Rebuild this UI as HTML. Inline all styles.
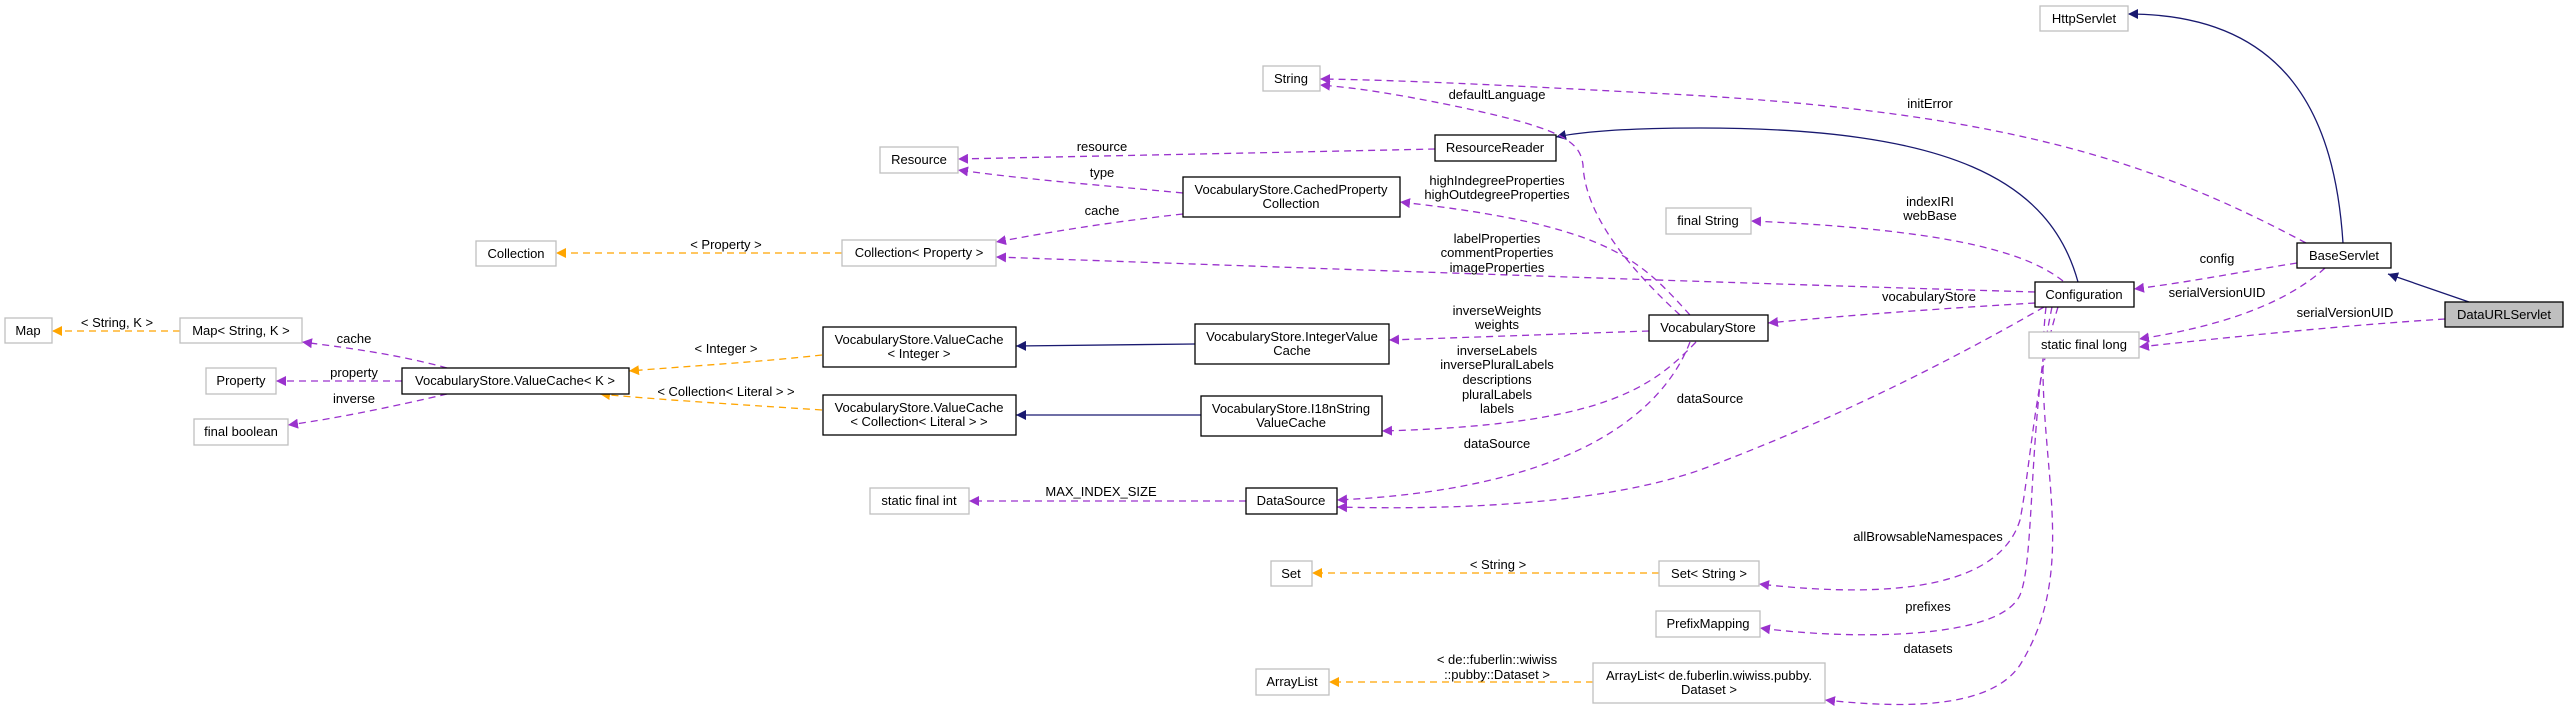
<!DOCTYPE html>
<html><head><meta charset="utf-8"><style>
html,body{margin:0;padding:0;background:#fff;}
svg{display:block;font-family:"Liberation Sans",Helvetica,Arial,sans-serif;font-size:13px;}
.g{fill:#fff;stroke:#bfbfbf;stroke-width:1.3}
.b{fill:#fff;stroke:#000;stroke-width:1.3}
.p{fill:none;stroke:#9a32cd;stroke-width:1.3;stroke-dasharray:7,5;marker-end:url(#mp)}
.o{fill:none;stroke:#ffa500;stroke-width:1.3;stroke-dasharray:7,5;marker-end:url(#mo)}
.n{fill:none;stroke:#191970;stroke-width:1.3;marker-end:url(#mn)}
text{fill:#000;}
.c{text-anchor:middle}
</style></head><body>
<svg width="2569" height="712" viewBox="0 0 2569 712" xmlns="http://www.w3.org/2000/svg">
<defs>
<marker id="mp" viewBox="0 0 10 10" refX="10" refY="5" markerWidth="10" markerHeight="10" markerUnits="userSpaceOnUse" orient="auto"><path d="M0,0 L10,5 L0,10 z" fill="#9a32cd"/></marker>
<marker id="mo" viewBox="0 0 10 10" refX="10" refY="5" markerWidth="10" markerHeight="10" markerUnits="userSpaceOnUse" orient="auto"><path d="M0,0 L10,5 L0,10 z" fill="#ffa500"/></marker>
<marker id="mn" viewBox="0 0 10 10" refX="10" refY="5" markerWidth="10" markerHeight="10" markerUnits="userSpaceOnUse" orient="auto"><path d="M0,0 L10,5 L0,10 z" fill="#191970"/></marker>
</defs>

<!-- edges -->
<path class="n" d="M2469,302 L2388,274"/>
<path class="n" d="M2343,243 C2335,120 2290,14 2128,14"/>
<path class="n" d="M2078,282 C2050,180 1950,128 1700,128 C1620,128 1580,132 1556,137"/>
<path class="n" d="M1195,344 L1016,346"/>
<path class="n" d="M1201,415 L1016,415"/>

<path class="p" d="M2445,319 C2350,325 2250,335 2139,347"/>
<path class="p" d="M2325,268 C2290,300 2230,325 2139,339"/>
<path class="p" d="M2297,263 C2240,272 2190,282 2134,289"/>
<path class="p" d="M2306,243 C2150,160 2000,110 1650,93 C1500,85 1400,80 1320,79"/>
<path class="p" d="M2063,281 C2030,255 1960,230 1751,221"/>
<path class="p" d="M2035,303 C1950,308 1850,315 1768,323"/>
<path class="p" d="M2035,292 C1800,285 1500,275 996,257"/>
<path class="p" d="M2044,307 C1900,390 1780,440 1700,470 C1600,505 1450,510 1337,507"/>
<path class="p" d="M2058,307 C2035,380 2030,470 2020,520 C2000,585 1900,600 1759,584"/>
<path class="p" d="M2052,307 C2028,420 2035,560 2020,595 C2000,640 1850,640 1760,628"/>
<path class="p" d="M2046,307 C2030,450 2085,560 2020,665 C1990,710 1900,708 1825,700"/>
<path class="p" d="M1680,315 C1620,260 1585,210 1583,165 C1580,140 1560,128 1450,105 C1400,95 1360,88 1320,85"/>
<path class="p" d="M1690,315 C1640,260 1610,225 1400,202"/>
<path class="p" d="M1649,331 C1560,334 1480,337 1389,340"/>
<path class="p" d="M1696,342 C1650,390 1600,425 1382,431"/>
<path class="p" d="M1690,342 C1660,420 1560,490 1337,500"/>
<path class="p" d="M1246,501 L969,501"/>
<path class="p" d="M1183,193 C1100,185 1030,180 958,170"/>
<path class="p" d="M1435,149 C1300,152 1100,156 958,159"/>
<path class="p" d="M1183,214 C1110,222 1050,232 996,242"/>
<path class="p" d="M447,368 C400,355 350,348 302,342"/>
<path class="p" d="M402,381 L276,381"/>
<path class="p" d="M447,394 C400,405 340,418 288,425"/>

<path class="o" d="M842,253 L556,253"/>
<path class="o" d="M822,355 C760,362 690,366 629,371"/>
<path class="o" d="M822,410 C730,404 650,399 600,394"/>
<path class="o" d="M180,331 L52,331"/>
<path class="o" d="M1659,573 L1312,573"/>
<path class="o" d="M1593,682 L1329,682"/>

<!-- nodes -->
<rect class="g" x="2040" y="6" width="88" height="25"/><text class="c" x="2084" y="23">HttpServlet</text>
<rect class="b" x="2297" y="243" width="94" height="25"/><text class="c" x="2344" y="260">BaseServlet</text>
<rect x="2445" y="302" width="118" height="25" fill="#bfbfbf" stroke="#000" stroke-width="1.3"/><text class="c" x="2504" y="319">DataURLServlet</text>
<rect class="b" x="2035" y="282" width="99" height="25"/><text class="c" x="2084" y="299">Configuration</text>
<rect class="g" x="2029" y="332" width="110" height="26"/><text class="c" x="2084" y="349">static final long</text>
<rect class="g" x="1666" y="208" width="85" height="26"/><text class="c" x="1708" y="225">final String</text>
<rect class="g" x="1263" y="66" width="57" height="25"/><text class="c" x="1291" y="83">String</text>
<rect class="b" x="1435" y="135" width="121" height="26"/><text class="c" x="1495" y="152">ResourceReader</text>
<rect class="g" x="880" y="147" width="78" height="26"/><text class="c" x="919" y="164">Resource</text>
<rect class="b" x="1183" y="177" width="217" height="40"/><text class="c" x="1291" y="194">VocabularyStore.CachedProperty</text><text class="c" x="1291" y="208">Collection</text>
<rect class="g" x="842" y="240" width="154" height="26"/><text class="c" x="919" y="257">Collection&lt; Property &gt;</text>
<rect class="g" x="476" y="241" width="80" height="25"/><text class="c" x="516" y="258">Collection</text>
<rect class="b" x="1649" y="315" width="119" height="26"/><text class="c" x="1708" y="332">VocabularyStore</text>
<rect class="b" x="1195" y="324" width="194" height="40"/><text class="c" x="1292" y="341">VocabularyStore.IntegerValue</text><text class="c" x="1292" y="355">Cache</text>
<rect class="b" x="1201" y="396" width="181" height="40"/><text class="c" x="1291" y="413">VocabularyStore.I18nString</text><text class="c" x="1291" y="427">ValueCache</text>
<rect class="b" x="823" y="327" width="193" height="40"/><text class="c" x="919" y="344">VocabularyStore.ValueCache</text><text class="c" x="919" y="358">&lt; Integer &gt;</text>
<rect class="b" x="823" y="395" width="193" height="40"/><text class="c" x="919" y="412">VocabularyStore.ValueCache</text><text class="c" x="919" y="426">&lt; Collection&lt; Literal &gt; &gt;</text>
<rect class="b" x="402" y="368" width="227" height="26"/><text class="c" x="515" y="385">VocabularyStore.ValueCache&lt; K &gt;</text>
<rect class="g" x="180" y="318" width="122" height="25"/><text class="c" x="241" y="335">Map&lt; String, K &gt;</text>
<rect class="g" x="5" y="318" width="47" height="25"/><text class="c" x="28" y="335">Map</text>
<rect class="g" x="206" y="368" width="70" height="26"/><text class="c" x="241" y="385">Property</text>
<rect class="g" x="194" y="419" width="94" height="26"/><text class="c" x="241" y="436">final boolean</text>
<rect class="b" x="1246" y="488" width="91" height="26"/><text class="c" x="1291" y="505">DataSource</text>
<rect class="g" x="870" y="488" width="99" height="26"/><text class="c" x="919" y="505">static final int</text>
<rect class="g" x="1271" y="561" width="41" height="25"/><text class="c" x="1291" y="578">Set</text>
<rect class="g" x="1659" y="561" width="100" height="25"/><text class="c" x="1709" y="578">Set&lt; String &gt;</text>
<rect class="g" x="1656" y="611" width="104" height="26"/><text class="c" x="1708" y="628">PrefixMapping</text>
<rect class="g" x="1256" y="669" width="73" height="26"/><text class="c" x="1292" y="686">ArrayList</text>
<rect class="g" x="1593" y="663" width="232" height="40"/><text class="c" x="1709" y="680">ArrayList&lt; de.fuberlin.wiwiss.pubby.</text><text class="c" x="1709" y="694">Dataset &gt;</text>

<!-- edge labels -->
<text class="c" x="2345" y="317">serialVersionUID</text>
<text class="c" x="2217" y="297">serialVersionUID</text>
<text class="c" x="2217" y="263">config</text>
<text class="c" x="1930" y="108">initError</text>
<text class="c" x="1930" y="206">indexIRI</text>
<text class="c" x="1930" y="220">webBase</text>
<text class="c" x="1929" y="301">vocabularyStore</text>
<text class="c" x="1497" y="99">defaultLanguage</text>
<text class="c" x="1102" y="151">resource</text>
<text class="c" x="1102" y="177">type</text>
<text class="c" x="1102" y="215">cache</text>
<text class="c" x="1497" y="185">highIndegreeProperties</text>
<text class="c" x="1497" y="199">highOutdegreeProperties</text>
<text class="c" x="1497" y="243">labelProperties</text>
<text class="c" x="1497" y="257">commentProperties</text>
<text class="c" x="1497" y="272">imageProperties</text>
<text class="c" x="726" y="249">&lt; Property &gt;</text>
<text class="c" x="1497" y="315">inverseWeights</text>
<text class="c" x="1497" y="329">weights</text>
<text class="c" x="1497" y="355">inverseLabels</text>
<text class="c" x="1497" y="369">inversePluralLabels</text>
<text class="c" x="1497" y="384">descriptions</text>
<text class="c" x="1497" y="399">pluralLabels</text>
<text class="c" x="1497" y="413">labels</text>
<text class="c" x="1497" y="448">dataSource</text>
<text class="c" x="1710" y="403">dataSource</text>
<text class="c" x="1101" y="496">MAX_INDEX_SIZE</text>
<text class="c" x="726" y="353">&lt; Integer &gt;</text>
<text class="c" x="726" y="396">&lt; Collection&lt; Literal &gt; &gt;</text>
<text class="c" x="354" y="343">cache</text>
<text class="c" x="354" y="377">property</text>
<text class="c" x="354" y="403">inverse</text>
<text class="c" x="117" y="327">&lt; String, K &gt;</text>
<text class="c" x="1928" y="541">allBrowsableNamespaces</text>
<text class="c" x="1498" y="569">&lt; String &gt;</text>
<text class="c" x="1928" y="611">prefixes</text>
<text class="c" x="1928" y="653">datasets</text>
<text class="c" x="1497" y="664">&lt; de::fuberlin::wiwiss</text>
<text class="c" x="1497" y="679">::pubby::Dataset &gt;</text>
</svg>
</body></html>
